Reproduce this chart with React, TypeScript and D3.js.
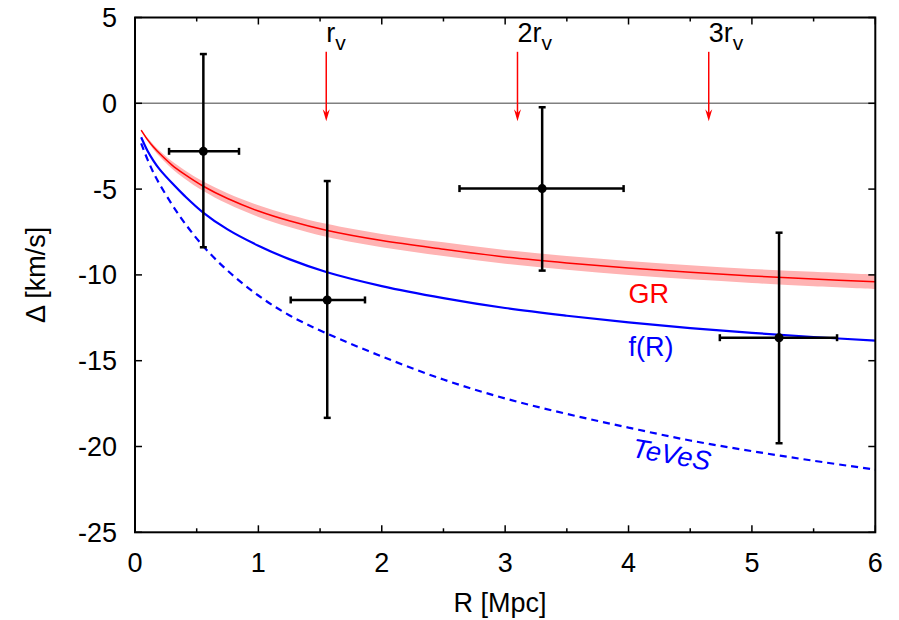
import React from "react";
import * as d3 from "d3";

// ---- data ----
const curveX = [0.05, 0.1, 0.15, 0.2, 0.3, 0.4, 0.55, 0.75, 1.0, 1.25, 1.55, 2.0, 2.5, 3.0, 3.5, 4.0, 4.5, 5.0, 5.5, 6.0];
const grY = [-1.56, -2.1, -2.55, -2.93, -3.6, -4.13, -4.82, -5.55, -6.28, -6.85, -7.4, -8.0, -8.5, -8.95, -9.3, -9.6, -9.85, -10.06, -10.24, -10.4];
const grBand = [0.04, 0.1, 0.14, 0.17, 0.22, 0.25, 0.28, 0.31, 0.34, 0.36, 0.38, 0.39, 0.4, 0.4, 0.4, 0.41, 0.41, 0.41, 0.42, 0.42];
const frY = [-1.98, -2.75, -3.35, -3.85, -4.65, -5.38, -6.35, -7.35, -8.3, -9.08, -9.83, -10.65, -11.35, -11.93, -12.38, -12.77, -13.1, -13.38, -13.62, -13.83];
const tevesY = [-2.33, -3.25, -4.05, -4.72, -5.9, -6.95, -8.3, -9.75, -11.2, -12.35, -13.4, -14.75, -16.1, -17.2, -18.1, -18.9, -19.65, -20.27, -20.83, -21.35];

const ptX = [0.554, 1.558, 3.3, 5.22];
const ptY = [-2.8, -11.46, -4.97, -13.66];
const ptXLo = [0.276, 1.262, 2.63, 4.74];
const ptXHi = [0.843, 1.864, 3.96, 5.69];
const ptYLo = [-8.39, -18.33, -9.75, -19.81];
const ptYHi = [2.87, -4.53, -0.23, -7.54];

const rv = 1.55;
const arrowMult = [1, 2, 3];
const arrowLabels = ["r", "2r", "3r"];
const arrowTop = 3;
const arrowTip = -1.05;

const xTicks = [0, 1, 2, 3, 4, 5, 6];
const xMinorTicks = [0.5, 1.5, 2.5, 3.5, 4.5, 5.5];
const yTicks = [5, 0, -5, -10, -15, -20, -25];

const W = 899;
const H = 620;
const left = 135, right = 875.3, top = 17.5, bottom = 532.3;
const FONT = "'Liberation Sans', Arial, Helvetica, sans-serif";
const FS = 27;

export default function App() {
  const x = d3.scaleLinear().domain([0, 6]).range([left, right]);
  const y = d3.scaleLinear().domain([-25, 5]).range([bottom, top]);

  const idx = curveX.map((_, i) => i);
  const smooth = d3.curveCatmullRom.alpha(0.5);
  const lineOf = (vals: number[]) =>
    d3.line<number>().x((i) => x(curveX[i])).y((i) => y(vals[i])).curve(smooth)(idx) || "";
  const band =
    d3
      .area<number>()
      .x((i) => x(curveX[i]))
      .y0((i) => y(grY[i] - grBand[i]))
      .y1((i) => y(grY[i] + grBand[i]))
      .curve(smooth)(idx) || "";

  const cap = 3.5;
  return (
    <div style={{ position: "absolute", left: 0, top: 0 }}>
      <svg width={W} height={H} style={{ display: "block", background: "#fff" }}>
        <defs>
          <clipPath id="plotclip">
            <rect x={left} y={top} width={right - left} height={bottom - top} />
          </clipPath>
        </defs>
        {/* zero line */}
        <line x1={left} x2={right} y1={y(0)} y2={y(0)} stroke="#808080" strokeWidth={1.5} />
        <g clipPath="url(#plotclip)">
          <path d={band} fill="#ffb3b3" stroke="none" />
          <path d={lineOf(grY)} fill="none" stroke="#ff0000" strokeWidth={1.5} />
          <path d={lineOf(frY)} fill="none" stroke="#0000ff" strokeWidth={2.2} />
          <path d={lineOf(tevesY)} fill="none" stroke="#0000ff" strokeWidth={2.2} strokeDasharray="7,5" />
        </g>
        {/* arrows */}
        {arrowMult.map((m, i) => {
          const ax = x(m * rv);
          const y0 = y(arrowTop);
          const y1 = y(arrowTip);
          return (
            <g key={"a" + i}>
              <line x1={ax} x2={ax} y1={y0} y2={y1 - 6} stroke="#ff0000" strokeWidth={1.5} />
              <path
                d={`M${ax},${y1} L${ax - 3.5},${y1 - 12} L${ax},${y1 - 8} L${ax + 3.5},${y1 - 12} Z`}
                fill="#ff0000"
              />
              <text x={ax} y={42} fontFamily={FONT} fontSize={FS} fill="#000">
                {arrowLabels[i]}
                <tspan fontSize={21} dy={8}>v</tspan>
              </text>
            </g>
          );
        })}
        {/* error bars */}
        {ptX.map((px, i) => (
          <g key={"p" + i} stroke="#000" strokeWidth={2.5}>
            <line x1={x(ptXLo[i])} x2={x(ptXHi[i])} y1={y(ptY[i])} y2={y(ptY[i])} />
            <line x1={x(px)} x2={x(px)} y1={y(ptYLo[i])} y2={y(ptYHi[i])} />
            <line x1={x(ptXLo[i])} x2={x(ptXLo[i])} y1={y(ptY[i]) - cap} y2={y(ptY[i]) + cap} />
            <line x1={x(ptXHi[i])} x2={x(ptXHi[i])} y1={y(ptY[i]) - cap} y2={y(ptY[i]) + cap} />
            <line x1={x(px) - cap} x2={x(px) + cap} y1={y(ptYLo[i])} y2={y(ptYLo[i])} />
            <line x1={x(px) - cap} x2={x(px) + cap} y1={y(ptYHi[i])} y2={y(ptYHi[i])} />
            <circle cx={x(px)} cy={y(ptY[i])} r={4.5} fill="#000" stroke="none" />
          </g>
        ))}
        {/* curve labels */}
        <text x={x(4.0)} y={y(-11.64)} fontFamily={FONT} fontSize={FS} fill="#ff0000">GR</text>
        <text x={x(4.0)} y={y(-14.73)} fontFamily={FONT} fontSize={FS} fill="#0000ff">f(R)</text>
        <text
          transform={`translate(${x(4.02)},${y(-20.6)}) rotate(10)`}
          fontFamily={FONT}
          fontSize={FS}
          fontStyle="italic"
          fill="#0000ff"
        >
          TeVeS
        </text>
        {/* frame */}
        <rect x={left} y={top} width={right - left} height={bottom - top} fill="none" stroke="#000" strokeWidth={2} />
        {/* ticks */}
        {xTicks.map((t) => (
          <g key={"xt" + t}>
            <line x1={x(t)} x2={x(t)} y1={bottom} y2={bottom - 7} stroke="#000" strokeWidth={1.5} />
            <line x1={x(t)} x2={x(t)} y1={top} y2={top + 7} stroke="#000" strokeWidth={1.5} />
            <text x={x(t)} y={572} textAnchor="middle" fontFamily={FONT} fontSize={FS}>{t}</text>
          </g>
        ))}
        {xMinorTicks.map((t) => (
          <g key={"xm" + t}>
            <line x1={x(t)} x2={x(t)} y1={bottom} y2={bottom - 4} stroke="#000" strokeWidth={1.5} />
            <line x1={x(t)} x2={x(t)} y1={top} y2={top + 4} stroke="#000" strokeWidth={1.5} />
          </g>
        ))}
        {yTicks.map((t) => (
          <g key={"yt" + t}>
            <line x1={left} x2={left + 7} y1={y(t)} y2={y(t)} stroke="#000" strokeWidth={1.5} />
            <line x1={right} x2={right - 7} y1={y(t)} y2={y(t)} stroke="#000" strokeWidth={1.5} />
            <text x={117} y={y(t) + 9.5} textAnchor="end" fontFamily={FONT} fontSize={FS}>{t}</text>
          </g>
        ))}
        {/* axis titles */}
        <text x={500} y={612} textAnchor="middle" fontFamily={FONT} fontSize={FS}>R [Mpc]</text>
        <text
          transform={`translate(45,${(top + bottom) / 2}) rotate(-90)`}
          textAnchor="middle"
          fontFamily={FONT}
          fontSize={FS}
        >
          Δ [km/s]
        </text>
      </svg>
    </div>
  );
}
